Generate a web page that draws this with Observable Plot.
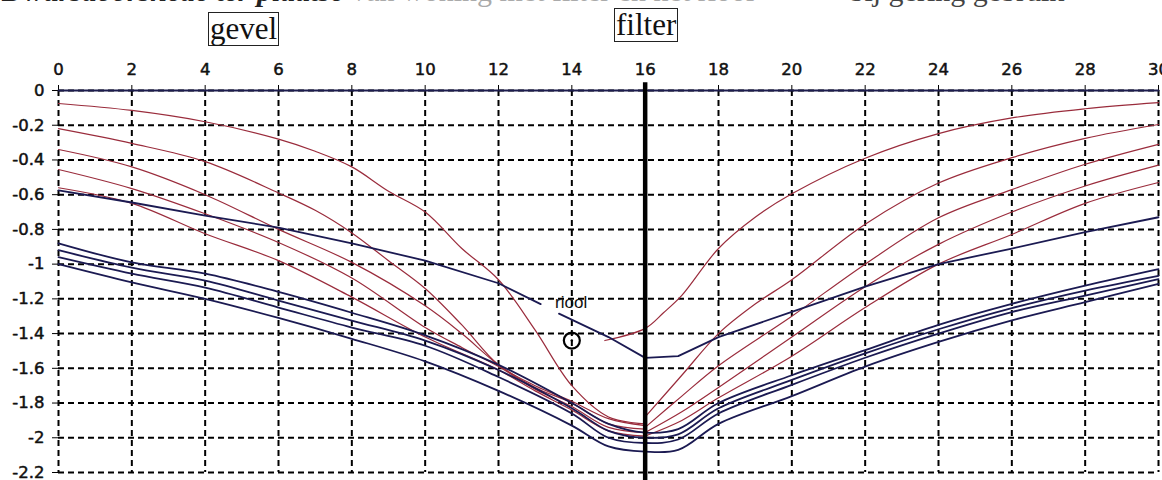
<!DOCTYPE html>
<html>
<head>
<meta charset="utf-8">
<script src="https://cdn.jsdelivr.net/npm/d3@7"></script>
<script src="https://cdn.jsdelivr.net/npm/@observablehq/plot@0.6"></script>
<style>
  html, body { margin: 0; padding: 0; background: #fff; overflow: hidden; }
  #wrap { position: relative; width: 1162px; height: 480px; overflow: hidden; }
  #title { position: absolute; left: 2px; top: -26px; font-family: "Liberation Serif", serif; font-size: 30px; white-space: nowrap; color: #222; }
  #title .a { font-style: italic; font-weight: bold; }
  #title .b { color: #aaa; }
  #title .c { color: #444; margin-left: 95px; }
  .box { position: absolute; font-family: "Liberation Serif", serif; font-size: 31px; border: 1.5px solid #222; line-height: 32px; padding: 0 1px; color: #111; background: #fff; }
  svg { position: absolute; left: 0; top: 0; }
</style>
</head>
<body>
<div id="wrap">
  <div id="title"><span class="a">Dwarsdoorsnede ter plaatse</span> <span class="b">van woning met filter en het riool</span><span class="c">bij gering gebruik</span></div>
  <div class="box" style="left:208px; top:12px;">gevel</div>
  <div class="box" style="left:614px; top:8px;">filter</div>
</div>
<script>
// Tick values
const xTicks = [0, 2, 4, 6, 8, 10, 12, 14, 16, 18, 20, 22, 24, 26, 28, 30];
const yTicks = [0, -0.2, -0.4, -0.6, -0.8, -1, -1.2, -1.4, -1.6, -1.8, -2, -2.2];

// Initial water table
const level0 = [[0, 0], [30, 0]];

// Red curves, left of filter
const r1Left = [[0,-0.075],[2,-0.115],[4,-0.18],[6,-0.28],[7,-0.35],[8,-0.44],[9,-0.58],[10,-0.70],[11,-0.91],[12,-1.09],[13,-1.38],[14,-1.70],[15,-1.88],[16,-1.92]];
const r2Left = [[0,-0.22],[2,-0.305],[4,-0.41],[6,-0.59],[7,-0.69],[8,-0.82],[9,-0.98],[10,-1.14],[11,-1.35],[12,-1.58],[13,-1.70],[14,-1.79],[15,-1.89],[16,-1.93]];
const r3Left = [[0,-0.34],[2,-0.44],[4,-0.60],[6,-0.80],[8,-0.99],[10,-1.24],[11,-1.40],[12,-1.58],[13,-1.71],[14,-1.80],[15,-1.92],[16,-1.95]];
const r4Left = [[0,-0.455],[2,-0.565],[4,-0.71],[6,-0.875],[8,-1.08],[10,-1.365],[11,-1.48],[12,-1.59],[13,-1.72],[14,-1.82],[15,-1.94],[16,-1.97]];
const r5Left = [[0,-0.56],[2,-0.65],[4,-0.825],[6,-0.98],[8,-1.19],[10,-1.42],[12,-1.61],[13,-1.73],[14,-1.84],[15,-1.96],[16,-1.99]];

// Red curves, right of filter
const r1Right = [[14.9,-1.44],[16,-1.37],[16.5,-1.28],[17,-1.18],[18,-0.91],[19,-0.73],[20,-0.595],[22,-0.39],[24,-0.248],[26,-0.158],[28,-0.105],[30,-0.07]];
const r2Right = [[16,-1.88],[17,-1.64],[18,-1.40],[19,-1.23],[20,-1.09],[22,-0.77],[24,-0.533],[26,-0.387],[28,-0.276],[30,-0.196]];
const r3Right = [[16,-1.94],[17,-1.76],[18,-1.585],[20,-1.30],[22,-1.0],[24,-0.733],[26,-0.571],[28,-0.425],[30,-0.31]];
const r4Right = [[16,-1.97],[17,-1.85],[18,-1.71],[20,-1.42],[22,-1.13],[24,-0.886],[26,-0.70],[28,-0.55],[30,-0.43]];
const r5Right = [[16,-1.99],[17,-1.9],[18,-1.77],[20,-1.53],[22,-1.25],[24,-1.0],[26,-0.829],[28,-0.65],[30,-0.53]];

// Blue curves
const b1 = [[0,-0.88],[2,-0.99],[4,-1.055],[6,-1.16],[8,-1.28],[10,-1.41],[12,-1.58],[14,-1.80],[15,-1.92],[16,-1.97],[16.9,-1.95],[18,-1.80],[20,-1.64],[22,-1.495],[24,-1.35],[26,-1.229],[28,-1.124],[30,-1.029]];
const b2 = [[0,-0.92],[2,-1.02],[4,-1.095],[6,-1.21],[8,-1.325],[10,-1.44],[12,-1.61],[14,-1.83],[15,-1.96],[16,-2.0],[16.9,-1.98],[18,-1.83],[20,-1.667],[22,-1.514],[24,-1.375],[26,-1.253],[28,-1.152],[30,-1.067]];
const b3 = [[0,-0.96],[2,-1.055],[4,-1.135],[6,-1.25],[8,-1.365],[10,-1.47],[12,-1.65],[14,-1.86],[15,-2.0],[16,-2.03],[16.9,-2.01],[18,-1.86],[20,-1.695],[22,-1.539],[24,-1.40],[26,-1.276],[28,-1.181],[30,-1.086]];
const b4 = [[0,-1.0],[2,-1.105],[4,-1.2],[6,-1.31],[8,-1.43],[10,-1.56],[12,-1.73],[14,-1.93],[15,-2.05],[16,-2.08],[16.9,-2.07],[18,-1.92],[20,-1.76],[22,-1.59],[24,-1.448],[26,-1.324],[28,-1.219],[30,-1.114]];

// Riool (sewer) line, interrupted by its label
const rioolA = [[0,-0.575],[2,-0.645],[4,-0.72],[6,-0.79],[8,-0.88],[10,-0.98],[12,-1.11],[13.15,-1.23]];
const rioolB = [[13.65,-1.285],[15,-1.42],[16,-1.54],[16.9,-1.53],[18,-1.42],[20,-1.275],[22,-1.13],[24,-1.0],[26,-0.91],[28,-0.815],[30,-0.73]];

// Annotations
const filterX = [16];
const rioolLabel = [{x: 13.98, y: -1.22, text: "riool"}];
const wellMark = [{x: 14.0, y: -1.44}];

const toRows = (pts, s) => pts.map(([x, y]) => ({x, y, s}));
const reds = [
  ...toRows(r1Left, "r1L"), ...toRows(r2Left, "r2L"), ...toRows(r3Left, "r3L"), ...toRows(r4Left, "r4L"), ...toRows(r5Left, "r5L"),
  ...toRows(r1Right, "r1R"), ...toRows(r2Right, "r2R"), ...toRows(r3Right, "r3R"), ...toRows(r4Right, "r4R"), ...toRows(r5Right, "r5R")
];
const blues = [...toRows(b1, "b1"), ...toRows(b2, "b2"), ...toRows(b3, "b3"), ...toRows(b4, "b4")];
const riool = [...toRows(rioolA, "a"), ...toRows(rioolB, "b")];

const fmt = d => d === 0 ? "0" : String(+d.toFixed(1));
const tickFont = {fontSize: 16.5, fontFamily: "DejaVu Sans, sans-serif", fill: "#111", stroke: "#111", strokeWidth: 0.5};

const chart = Plot.plot({
  width: 1162,
  height: 480,
  marginLeft: 58,
  marginRight: 4,
  marginTop: 90,
  marginBottom: 8,
  x: {domain: [0, 30]},
  y: {domain: [-2.2, 0]},
  style: {fontFamily: "DejaVu Sans, sans-serif", color: "#111", overflow: "visible"},
  marks: [
    Plot.gridX(xTicks, {stroke: "#000", strokeOpacity: 1, strokeWidth: 2, strokeDasharray: "6,4"}),
    Plot.gridY(yTicks, {stroke: "#000", strokeOpacity: 1, strokeWidth: 2, strokeDasharray: "6,4"}),
    Plot.axisX(xTicks, {anchor: "top", label: null, tickSize: 6, tickFormat: () => "", stroke: "#000"}),
    Plot.axisY(yTicks, {anchor: "left", label: null, tickSize: 6, tickFormat: () => "", stroke: "#000"}),
    Plot.text(xTicks, {x: d => d, y: () => 0, dy: -21, text: fmt, ...tickFont}),
    Plot.text(yTicks, {x: () => 0, y: d => d, dx: -14, textAnchor: "end", text: fmt, ...tickFont}),
    Plot.line(toRows(level0, "0"), {x: "x", y: "y", stroke: "#1c1c4e", strokeWidth: 2}),
    Plot.line(reds, {x: "x", y: "y", z: "s", stroke: "#9a2c3c", strokeWidth: 1.2, curve: "catmull-rom"}),
    Plot.line(blues, {x: "x", y: "y", z: "s", stroke: "#1b1a52", strokeWidth: 1.8, curve: "catmull-rom"}),
    Plot.line(riool, {x: "x", y: "y", z: "s", stroke: "#1b1a52", strokeWidth: 1.8, curve: "linear"}),
    Plot.ruleX(filterX, {y1: 0.045, y2: -2.33, stroke: "#000", strokeWidth: 4.5}),
    Plot.text(rioolLabel, {x: "x", y: "y", text: "text", fontFamily: "Liberation Sans, Arial, sans-serif", fontSize: 17, fill: "#111"}),
    Plot.dot(wellMark, {x: "x", y: "y", r: 8, stroke: "#000", strokeWidth: 2.2, fill: "none"}),
    Plot.dot(wellMark, {x: "x", y: "y", r: 1.2, fill: "#000"})
  ]
});
document.getElementById("wrap").prepend(chart);
</script>
</body>
</html>
